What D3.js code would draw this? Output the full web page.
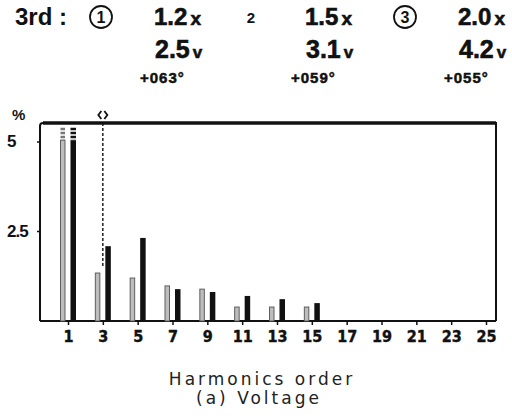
<!DOCTYPE html>
<html>
<head>
<meta charset="utf-8">
<title>Harmonics order - Voltage</title>
<style>
    body { margin: 0; background: #fff; }
    svg { display: block; }
    .hd { font-family: 'Liberation Sans', Arial, sans-serif; font-weight: bold; fill: #111; }
    .tick text { font-family: 'DejaVu Sans Condensed', 'Liberation Sans Narrow', 'Liberation Sans', sans-serif; font-weight: bold; font-size: 16px; fill: #111; }
    .cap { font-family: 'DejaVu Sans', sans-serif; font-size: 17px; letter-spacing: 3px; fill: #222; }
</style>
<script src="https://d3js.org/d3.v7.min.js"></script>
<script>
    // harmonic orders with bars
    var orders = [1, 3, 5, 7, 9, 11, 13, 15];
    // light (hatched) bars and dark bars, in %
    var lightVals = [5.4, 1.34, 1.2, 0.98, 0.89, 0.39, 0.39, 0.39];
    var darkVals  = [5.4, 2.09, 2.32, 0.89, 0.81, 0.70, 0.61, 0.50];
    var xTicks = [1, 3, 5, 7, 9, 11, 13, 15, 17, 19, 21, 23, 25];
    var yTicks = [5, 2.5];
    var cap = 5.05;          // bars above this are drawn with overflow dashes
    var cursorOrder = 3;

    // header readout (3rd harmonic, three phases)
    var phases = ["1", "2", "3"];
    var pctVals = ["1.2", "1.5", "2.0"];
    var voltVals = ["2.5", "3.1", "4.2"];
    var angleVals = ["+063°", "+059°", "+055°"];

    function run() {
        var svg = d3.select("#chart").append("svg")
            .attr("width", 512)
            .attr("height", 420);

        // ---------- header ----------
        svg.append("text").attr("class", "hd")
            .attr("x", 15).attr("y", 25)
            .attr("font-size", 24)
            .text("3rd :");

        var colX = [154, 305, 458];
        var circX = [101, 251, 405];
        for (var i = 0; i < 3; i++) {
            if (i != 1) {
                svg.append("circle")
                    .attr("cx", circX[i]).attr("cy", 17).attr("r", 11)
                    .attr("fill", "none").attr("stroke", "#111").attr("stroke-width", 1.8);
                svg.append("text").attr("class", "hd")
                    .attr("x", circX[i]).attr("y", 23)
                    .attr("text-anchor", "middle").attr("font-size", 16).attr("font-weight", "normal")
                    .text(phases[i]);
            } else {
                svg.append("text").attr("class", "hd")
                    .attr("x", circX[i]).attr("y", 23)
                    .attr("text-anchor", "middle").attr("font-size", 15)
                    .text(phases[i]);
            }
            var t1 = svg.append("text").attr("class", "hd")
                .attr("x", colX[i]).attr("y", 25).attr("font-size", 24)
                .attr("stroke", "#111").attr("stroke-width", 0.6);
            t1.append("tspan").text(pctVals[i]);
            t1.append("tspan").attr("dx", 3).attr("font-size", 19).text("x");

            var t2 = svg.append("text").attr("class", "hd")
                .attr("x", colX[i] + 1).attr("y", 58).attr("font-size", 25)
                .attr("stroke", "#111").attr("stroke-width", 0.6);
            t2.append("tspan").text(voltVals[i]);
            t2.append("tspan").attr("dx", 3).attr("font-size", 17).text("v");

            svg.append("text").attr("class", "hd")
                .attr("x", colX[i] - 14).attr("y", 83)
                .attr("font-size", 15).attr("letter-spacing", 1)
                .attr("stroke", "#111").attr("stroke-width", 0.5)
                .text(angleVals[i]);
        }

        // ---------- chart ----------
        var left = 40, right = 496, top = 123, bottom = 321;

        var x = d3.scaleLinear().domain([1, 25]).range([68, 486]);
        var y = d3.scaleLinear().domain([0, 5]).range([bottom, 142]);

        // frame
        svg.append("path")
            .attr("d", "M" + left + "," + bottom + " V" + (top + 3) + " Q" + left + "," + top + " " + (left + 3) + "," + top + " H" + right + " V" + bottom)
            .attr("fill", "none").attr("stroke", "#111").attr("stroke-width", 2);
        svg.append("line")
            .attr("x1", left + 3).attr("x2", right).attr("y1", top).attr("y2", top)
            .attr("stroke", "#111").attr("stroke-width", 3.5);

        // x axis
        var xAxis = svg.append("g")
            .attr("transform", "translate(0," + bottom + ")")
            .call(d3.axisBottom(x).tickValues(xTicks).tickSize(4).tickSizeOuter(0).tickPadding(6));
        xAxis.select(".domain").attr("d", "M" + left + ",0 H" + right).attr("stroke", "#111").attr("stroke-width", 2);
        xAxis.selectAll(".tick line").attr("stroke", "#111").attr("stroke-width", 1.5);
        xAxis.selectAll(".tick text").attr("stroke", "#111").attr("stroke-width", 0.4);

        // y axis ticks and labels
        svg.selectAll(".ytick").data(yTicks).enter().append("line")
            .attr("x1", left - 3).attr("x2", left)
            .attr("y1", function(d) { return y(d); }).attr("y2", function(d) { return y(d); })
            .attr("stroke", "#111").attr("stroke-width", 1.5);
        svg.selectAll(".ylab").data(yTicks).enter().append("text")
            .attr("class", "hd")
            .attr("x", 7)
            .attr("y", function(d) { return y(d) + 5; })
            .attr("font-size", 17)
            .attr("letter-spacing", -1)
            .text(function(d) { return d; });
        svg.append("text").attr("class", "hd")
            .attr("x", 12).attr("y", 120).attr("font-size", 15)
            .text("%");

        // bars
        var data = orders.map(function(o, i) { return {o: o, a: lightVals[i], b: darkVals[i]}; });

        svg.selectAll(".lbar").data(data).enter().append("rect")
            .attr("x", function(d) { return x(d.o) - 7.5; })
            .attr("width", 4.5)
            .attr("y", function(d) { return y(Math.min(d.a, cap)); })
            .attr("height", function(d) { return bottom - y(Math.min(d.a, cap)); })
            .attr("fill", "#bdbdbd").attr("stroke", "#5e5e5e").attr("stroke-width", 1);

        svg.selectAll(".dbar").data(data).enter().append("rect")
            .attr("x", function(d) { return x(d.o) + 2.5; })
            .attr("width", 5.5)
            .attr("y", function(d) { return y(Math.min(d.b, cap)); })
            .attr("height", function(d) { return bottom - y(Math.min(d.b, cap)); })
            .attr("fill", "#111");

        // overflow dashes above capped bars
        var over = data.filter(function(d) { return d.a > cap || d.b > cap; });
        over.forEach(function(d) {
            svg.append("line")
                .attr("x1", x(d.o) - 5.25).attr("x2", x(d.o) - 5.25)
                .attr("y1", y(d.a)).attr("y2", y(cap))
                .attr("stroke", "#777").attr("stroke-width", 4.5).attr("stroke-dasharray", "2.5,1.5");
            svg.append("line")
                .attr("x1", x(d.o) + 5.25).attr("x2", x(d.o) + 5.25)
                .attr("y1", y(d.b)).attr("y2", y(cap))
                .attr("stroke", "#111").attr("stroke-width", 5.5).attr("stroke-dasharray", "2.5,1.5");
        });

        // cursor
        var cx = x(cursorOrder);
        svg.append("line")
            .attr("x1", cx).attr("x2", cx).attr("y1", top).attr("y2", 267)
            .attr("stroke", "#111").attr("stroke-width", 1.4).attr("stroke-dasharray", "3,2");
        svg.append("path")
            .attr("d", "M" + (cx - 1.5) + ",111 L" + (cx - 4.5) + ",115 L" + (cx - 1.5) + ",119 M" + (cx + 1.5) + ",111 L" + (cx + 4.5) + ",115 L" + (cx + 1.5) + ",119")
            .attr("fill", "none").attr("stroke", "#111").attr("stroke-width", 1.8);

        // caption
        svg.append("text").attr("class", "cap")
            .attr("x", 262).attr("y", 385).attr("text-anchor", "middle")
            .text("Harmonics order");
        svg.append("text").attr("class", "cap")
            .attr("x", 259).attr("y", 404).attr("text-anchor", "middle")
            .text("(a) Voltage");
    }
</script>
</head>
<body onload="run()">
<div id="chart"></div>
</body>
</html>
